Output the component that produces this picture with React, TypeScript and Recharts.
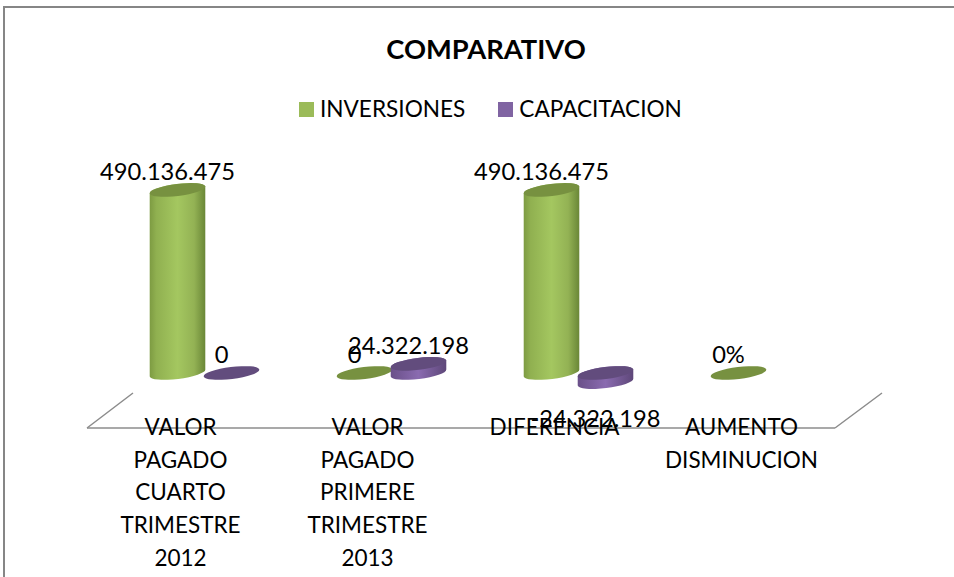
import React from "react";
import { BarChart, Bar, XAxis, YAxis, Legend, LabelList, Customized } from "recharts";

const categories = [
  "VALOR PAGADO CUARTO TRIMESTRE 2012",
  "VALOR PAGADO PRIMERE TRIMESTRE 2013",
  "DIFERENCIA",
  "AUMENTO DISMINUCION",
];
const inversiones = [490136475, 0, 490136475, 0];
const capacitacion: (number | null)[] = [0, 24322198, -24322198, null];
const inversionesLabels = ["490.136.475", "0", "490.136.475", "0%"];
const capacitacionLabels = ["0", "24.322.198", "-24.322.198", ""];

const data = categories.map((name, i) => ({
  name,
  inversiones: inversiones[i],
  capacitacion: capacitacion[i],
}));

const FONT = "Lato, 'Open Sans', sans-serif";
const W = 954;
const H = 577;
const DEPTH_X = 23.5;
const TILT = -7;
const RX = 28;
const RY = 6;
const TEXT = "#000";

const Cylinder = (props: any) => {
  const { x, y, width, height, gradient, topColor } = props;
  if (x == null || y == null) return null;
  const top = Math.min(y, y + height);
  const bottom = Math.max(y, y + height);
  const cx = x + width / 2 + DEPTH_X;
  const ax = RX * Math.cos((TILT * Math.PI) / 180);
  const ay = RX * Math.sin((TILT * Math.PI) / 180);
  const body = `M${cx - ax} ${top - ay}L${cx - ax} ${bottom - ay}A${RX} ${RY} ${TILT} 0 0 ${cx + ax} ${bottom + ay}L${cx + ax} ${top + ay}A${RX} ${RY} ${TILT} 0 0 ${cx - ax} ${top - ay}Z`;
  return (
    <g>
      {bottom - top > 0.5 && <path d={body} fill={`url(#${gradient})`} />}
      <ellipse cx={cx} cy={top} rx={RX} ry={RY} fill={topColor} transform={`rotate(${TILT} ${cx} ${top})`} />
    </g>
  );
};

const makeLabel = (texts: string[]) => (props: any) => {
  const { x, y, width, height, index } = props;
  const t = texts[index];
  if (!t) return null;
  const cx = x + width / 2 + DEPTH_X - 10;
  const neg = height < 0;
  const yy = neg ? Math.max(y, y + height) + 36 : y - 19;
  return (
    <text x={cx} y={yy} textAnchor="middle" dominantBaseline="central" fontFamily={FONT} fontSize={23.7} fill={TEXT}>
      {t}
    </text>
  );
};

const WrappedTick = (props: any) => {
  const { x, y, payload } = props;
  const lines = String(payload.value).split(" ");
  return (
    <text x={x} textAnchor="middle" fontFamily={FONT} fontSize={22.5} fill={TEXT}>
      {lines.map((l, i) => (
        <tspan key={i} x={x} y={y + i * 32.7 + 1}>
          {l}
        </tspan>
      ))}
    </text>
  );
};

const LegendContent = (props: any) => (
  <div style={{ display: "flex", alignItems: "center", fontFamily: FONT, fontSize: 22.6, color: TEXT, lineHeight: "28px", height: 28 }}>
    {(props.payload || []).map((p: any, i: number) => (
      <div key={i} style={{ display: "flex", alignItems: "center", marginRight: i === 0 ? 33 : 0 }}>
        <span style={{ width: 15, height: 15, background: p.color, display: "inline-block", marginRight: 6 }} />
        <span>{p.value}</span>
      </div>
    ))}
  </div>
);

const FloorSides = () => (
  <path d="M87 428L133 393M835 428L882 393" stroke="#8c8c8c" strokeWidth={1.5} fill="none" />
);

export default function App() {
  return (
    <div style={{ position: "absolute", left: 0, top: 0, width: W, height: H, overflow: "hidden", background: "#fff" }}>
      <div style={{ position: "absolute", left: 3, top: 6, width: W, height: H, borderLeft: "2px solid #868686", borderTop: "2px solid #868686" }} />
      <div style={{ position: "absolute", left: 336, width: 300, top: 31, textAlign: "center", fontFamily: FONT, fontWeight: 700, fontSize: 27.3, lineHeight: "36px", color: TEXT }}>
        COMPARATIVO
      </div>
      <div style={{ position: "absolute", left: 0, top: 0 }}>
        <BarChart
          width={W}
          height={H}
          data={data}
          margin={{ top: 186.3, bottom: 0, left: 87, right: 119 }}
          barSize={56}
          barGap={-2}
        >
          <defs>
            <linearGradient id="greenBody" x1="0" y1="0" x2="1" y2="0">
              <stop offset="0" stopColor="#7d9b42" />
              <stop offset="0.12" stopColor="#90b050" />
              <stop offset="0.5" stopColor="#a4c760" />
              <stop offset="0.8" stopColor="#93b254" />
              <stop offset="1" stopColor="#6a8737" />
            </linearGradient>
            <linearGradient id="purpleBody" x1="0" y1="0" x2="1" y2="0">
              <stop offset="0" stopColor="#6a5089" />
              <stop offset="0.5" stopColor="#8a6bb0" />
              <stop offset="1" stopColor="#5e4779" />
            </linearGradient>
          </defs>
          <Customized component={FloorSides} />
          <XAxis
            dataKey="name"
            axisLine={{ stroke: "#8c8c8c", strokeWidth: 1.5 }}
            tickLine={false}
            interval={0}
            height={121}
            tick={<WrappedTick />}
            tickMargin={0}
          />
          <YAxis hide domain={[-147300000, 500000000]} />
          <Legend
            content={<LegendContent />}
            itemSorter={null}
            wrapperStyle={{ position: "absolute", left: 299, top: 95, width: "auto", bottom: "auto" }}
          />
          <Bar
            dataKey="inversiones"
            name="INVERSIONES"
            fill="#9bbb59"
            isAnimationActive={false}
            shape={<Cylinder gradient="greenBody" topColor="#779140" />}
          >
            <LabelList dataKey="inversiones" content={makeLabel(inversionesLabels)} />
          </Bar>
          <Bar
            dataKey="capacitacion"
            name="CAPACITACION"
            fill="#8064a2"
            isAnimationActive={false}
            shape={<Cylinder gradient="purpleBody" topColor="#624c7d" />}
          >
            <LabelList dataKey="capacitacion" content={makeLabel(capacitacionLabels)} />
          </Bar>
        </BarChart>
      </div>
    </div>
  );
}
